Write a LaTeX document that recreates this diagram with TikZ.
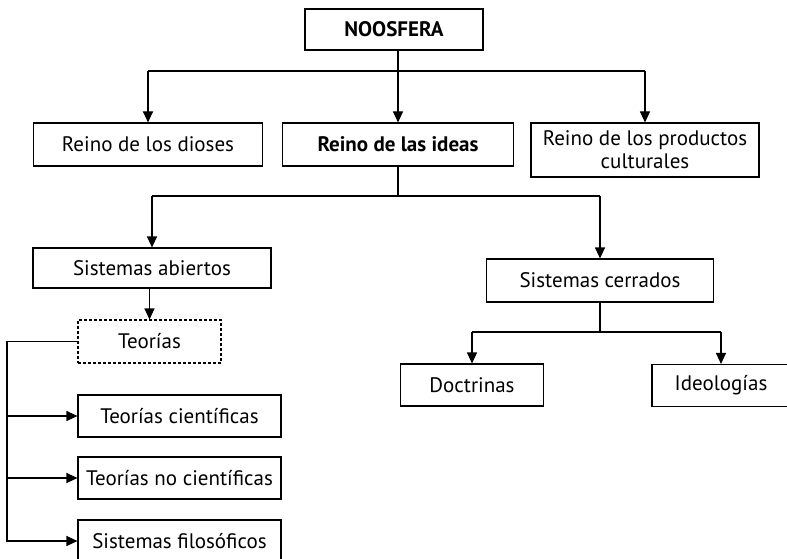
\documentclass[tikz,border=0pt]{standalone}
\usepackage{fontspec}
\setmainfont{PT Sans}
\usepackage{tikz}
\usetikzlibrary{arrows.meta, positioning, calc}

\tikzset{
  box/.style={draw, line width=1.1pt, inner sep=1pt, align=center,
    font=\fontsize{21}{23}\selectfont},
  arr/.style={-{Triangle[length=11pt,width=10pt]}, line width=1.1pt},
  ln/.style={line width=1.1pt}
}

\begin{document}
\begin{tikzpicture}[x=1pt, y=-1pt]
\useasboundingbox (0,0) rectangle (787,559);

% top level
\node[box, minimum width=178, minimum height=41, font=\fontsize{21}{23}\selectfont\bfseries] (noos) at (394,29.5) {NOOSFERA};
\node[box, minimum width=229, minimum height=43] (dioses) at (148,144.5) {Reino de los dioses};
\node[box, minimum width=231, minimum height=43, font=\fontsize{21}{23}\selectfont\bfseries] (ideas) at (398,144.5) {Reino de las ideas};
\node[box, minimum width=228, minimum height=54] (prod) at (645,150) {Reino de los productos\\culturales};

% second level
\node[box, minimum width=238, minimum height=40] (abiertos) at (152,268) {Sistemas abiertos};
\node[box, minimum width=227, minimum height=43] (cerrados) at (600,280.5) {Sistemas cerrados};

% teorias
\node[box, dash pattern=on 3pt off 2pt, minimum width=143, minimum height=43] (teorias) at (149.5,341.5) {Teorías};
\node[box, minimum width=203, minimum height=42] (cient) at (179.5,416) {Teorías científicas};
\node[box, minimum width=203, minimum height=42] (nocient) at (179.5,478) {Teorías no científicas};
\node[box, minimum width=203, minimum height=42] (filos) at (179.5,541) {Sistemas filosóficos};

% cerrados
\node[box, minimum width=143, minimum height=42] (doct) at (472,385) {Doctrinas};
\node[box, minimum width=138, minimum height=42] (ideol) at (721,385.5) {Ideologías};

% connectors
\coordinate (bus1) at (0,71);
\coordinate (bus2) at (0,196);
\coordinate (bus3) at (0,332);
\coordinate (rail) at (7,0);

\draw[arr] (ideas.north |- noos.south) -- (ideas.north);
\draw[ln] (dioses.north |- bus1) -- (prod.north |- bus1);
\draw[arr] (dioses.north |- bus1) -- (dioses.north);
\draw[arr] (prod.north |- bus1) -- (prod.north);

\draw[ln] (ideas.south) -- (ideas.south |- bus2);
\draw[ln] (abiertos.north |- bus2) -- (cerrados.north |- bus2);
\draw[arr] (abiertos.north |- bus2) -- (abiertos.north);
\draw[arr] (cerrados.north |- bus2) -- (cerrados.north);

\draw[arr] (teorias.north |- abiertos.south) -- (teorias.north);
\draw[arr] (teorias.west) -- (rail |- teorias.west) -- (rail |- filos.west) -- (filos.west);
\draw[arr] (rail |- cient.west) -- (cient.west);
\draw[arr] (rail |- nocient.west) -- (nocient.west);

\draw[ln] (cerrados.south) -- (cerrados.south |- bus3);
\draw[ln] (doct.north |- bus3) -- (ideol.north |- bus3);
\draw[arr] (doct.north |- bus3) -- (doct.north);
\draw[arr] (ideol.north |- bus3) -- (ideol.north);
\end{tikzpicture}
\end{document}
